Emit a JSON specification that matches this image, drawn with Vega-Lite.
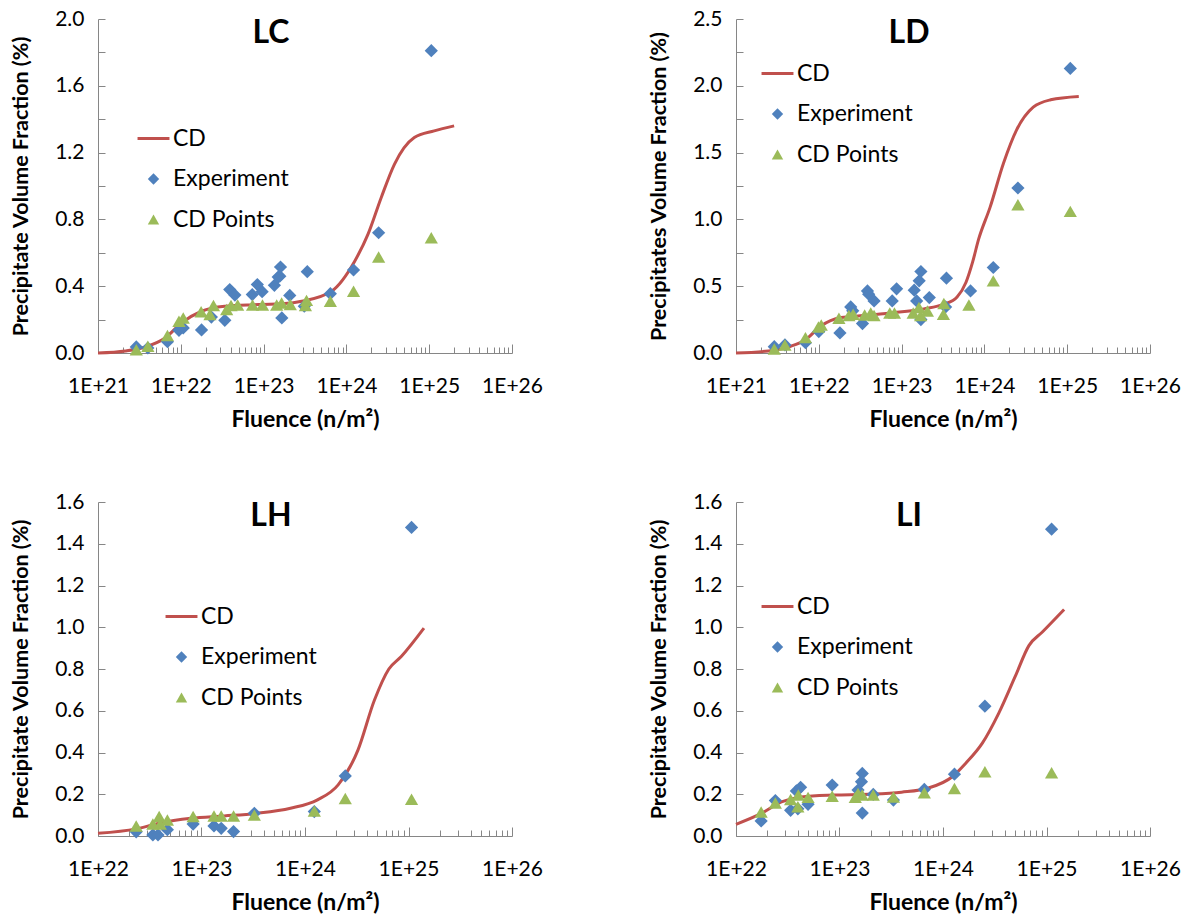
{
  "$schema": "https://vega.github.io/schema/vega-lite/v6.json",
  "padding": {"left": 10, "top": 8, "right": 5, "bottom": 5},
  "background": "white",
  "config": {
    "font": "Lato",
    "view": {"stroke": null},
    "axis": {"domainColor": "#868686", "tickColor": "#868686", "labelColor": "#000000", "titleColor": "#000000", "labelFont": "Lato", "labelFontSize": 21, "titleFont": "Lato", "titleFontSize": 21.5, "titleFontWeight": "bold", "grid": false, "labelFlush": false, "labelOverlap": false, "domainWidth": 1, "tickWidth": 1},
    "axisX": {"tickSize": -9, "labelPadding": 31, "titlePadding": 12, "titleFontSize": 23},
    "axisY": {"tickSize": -7, "labelPadding": 21, "titlePadding": 22},
    "legend": {"labelFont": "Lato", "labelFontSize": 23, "labelColor": "#000000", "symbolSize": 130, "rowPadding": 16.5, "padding": 0, "labelOffset": 8, "symbolOpacity": 1},
    "title": {"font": "Lato", "fontSize": 32, "fontWeight": "bold", "color": "#000000", "anchor": "middle", "frame": "group"}
  },
  "columns": 2,
  "spacing": {"row": 149, "column": 224},
  "bounds": "flush",
  "resolve": {"scale": {"x": "independent", "y": "independent", "color": "independent", "shape": "independent"}, "legend": {"color": "independent", "shape": "independent"}},
  "datasets": {
    "lc": [
      {"s": "CD", "x": 1e21, "y": 0}, {"s": "CD", "x": 2.14e21, "y": 0.012}, {"s": "CD", "x": 3.72e21, "y": 0.036}, {"s": "CD", "x": 6.46e21, "y": 0.09}, {"s": "CD", "x": 1.02e22, "y": 0.18}, {"s": "CD", "x": 1.78e22, "y": 0.25}, {"s": "CD", "x": 3.39e22, "y": 0.28}, {"s": "CD", "x": 8.71e22, "y": 0.29}, {"s": "CD", "x": 2.19e23, "y": 0.3}, {"s": "CD", "x": 2.88e23, "y": 0.31}, {"s": "CD", "x": 6.61e23, "y": 0.37}, {"s": "CD", "x": 1.26e24, "y": 0.55}, {"s": "CD", "x": 1.82e24, "y": 0.71}, {"s": "CD", "x": 2.63e24, "y": 0.93}, {"s": "CD", "x": 3.8e24, "y": 1.13}, {"s": "CD", "x": 6.61e24, "y": 1.29}, {"s": "CD", "x": 1.15e25, "y": 1.33}, {"s": "CD", "x": 2.0e25, "y": 1.36},
      {"s": "Experiment", "x": 2.9e21, "y": 0.036}, {"s": "Experiment", "x": 4.0e21, "y": 0.03}, {"s": "Experiment", "x": 6.9e21, "y": 0.068}, {"s": "Experiment", "x": 9.5e21, "y": 0.136}, {"s": "Experiment", "x": 1.07e22, "y": 0.15}, {"s": "Experiment", "x": 1.78e22, "y": 0.138}, {"s": "Experiment", "x": 2.34e22, "y": 0.215}, {"s": "Experiment", "x": 3.4e22, "y": 0.196}, {"s": "Experiment", "x": 3.9e22, "y": 0.38}, {"s": "Experiment", "x": 4.5e22, "y": 0.347}, {"s": "Experiment", "x": 7.3e22, "y": 0.35}, {"s": "Experiment", "x": 8.4e22, "y": 0.41}, {"s": "Experiment", "x": 9.6e22, "y": 0.367}, {"s": "Experiment", "x": 1.35e23, "y": 0.405}, {"s": "Experiment", "x": 1.5e23, "y": 0.455}, {"s": "Experiment", "x": 1.57e23, "y": 0.46}, {"s": "Experiment", "x": 1.6e23, "y": 0.515}, {"s": "Experiment", "x": 1.66e23, "y": 0.21}, {"s": "Experiment", "x": 2.07e23, "y": 0.345}, {"s": "Experiment", "x": 3.1e23, "y": 0.28}, {"s": "Experiment", "x": 3.37e23, "y": 0.487}, {"s": "Experiment", "x": 6.4e23, "y": 0.355}, {"s": "Experiment", "x": 1.22e24, "y": 0.497}, {"s": "Experiment", "x": 2.45e24, "y": 0.72}, {"s": "Experiment", "x": 1.06e25, "y": 1.81},
      {"s": "CD Points", "x": 2.9e21, "y": 0.02}, {"s": "CD Points", "x": 4.0e21, "y": 0.04}, {"s": "CD Points", "x": 6.9e21, "y": 0.105}, {"s": "CD Points", "x": 9.5e21, "y": 0.19}, {"s": "CD Points", "x": 1.07e22, "y": 0.21}, {"s": "CD Points", "x": 1.76e22, "y": 0.247}, {"s": "CD Points", "x": 2.25e22, "y": 0.23}, {"s": "CD Points", "x": 2.48e22, "y": 0.285}, {"s": "CD Points", "x": 3.58e22, "y": 0.26}, {"s": "CD Points", "x": 4.04e22, "y": 0.285}, {"s": "CD Points", "x": 4.86e22, "y": 0.287}, {"s": "CD Points", "x": 7.36e22, "y": 0.287}, {"s": "CD Points", "x": 9.7e22, "y": 0.287}, {"s": "CD Points", "x": 1.44e23, "y": 0.287}, {"s": "CD Points", "x": 1.65e23, "y": 0.3}, {"s": "CD Points", "x": 2.1e23, "y": 0.29}, {"s": "CD Points", "x": 3.2e23, "y": 0.285}, {"s": "CD Points", "x": 3.3e23, "y": 0.315}, {"s": "CD Points", "x": 6.4e23, "y": 0.31}, {"s": "CD Points", "x": 1.22e24, "y": 0.37}, {"s": "CD Points", "x": 2.45e24, "y": 0.575}, {"s": "CD Points", "x": 1.06e25, "y": 0.69}
    ],
    "ld": [
      {"s": "CD", "x": 1e21, "y": 0}, {"s": "CD", "x": 2.88e21, "y": 0.02}, {"s": "CD", "x": 4.57e21, "y": 0.05}, {"s": "CD", "x": 6.92e21, "y": 0.1}, {"s": "CD", "x": 1.05e22, "y": 0.2}, {"s": "CD", "x": 1.86e22, "y": 0.265}, {"s": "CD", "x": 3.47e22, "y": 0.28}, {"s": "CD", "x": 7.41e22, "y": 0.3}, {"s": "CD", "x": 1.86e23, "y": 0.33}, {"s": "CD", "x": 3.24e23, "y": 0.365}, {"s": "CD", "x": 4.68e23, "y": 0.42}, {"s": "CD", "x": 6.0e23, "y": 0.53}, {"s": "CD", "x": 7.2e23, "y": 0.68}, {"s": "CD", "x": 8.5e23, "y": 0.85}, {"s": "CD", "x": 1.17e24, "y": 1.09}, {"s": "CD", "x": 1.7e24, "y": 1.42}, {"s": "CD", "x": 2.45e24, "y": 1.67}, {"s": "CD", "x": 3.89e24, "y": 1.84}, {"s": "CD", "x": 6.31e24, "y": 1.895}, {"s": "CD", "x": 1.38e25, "y": 1.92},
      {"s": "Experiment", "x": 2.9e21, "y": 0.047}, {"s": "Experiment", "x": 3.9e21, "y": 0.06}, {"s": "Experiment", "x": 6.9e21, "y": 0.077}, {"s": "Experiment", "x": 1.0e22, "y": 0.16}, {"s": "Experiment", "x": 1.8e22, "y": 0.15}, {"s": "Experiment", "x": 2.43e22, "y": 0.345}, {"s": "Experiment", "x": 2.57e22, "y": 0.316}, {"s": "Experiment", "x": 3.37e22, "y": 0.22}, {"s": "Experiment", "x": 3.87e22, "y": 0.465}, {"s": "Experiment", "x": 4.0e22, "y": 0.44}, {"s": "Experiment", "x": 4.65e22, "y": 0.39}, {"s": "Experiment", "x": 7.7e22, "y": 0.39}, {"s": "Experiment", "x": 8.7e22, "y": 0.48}, {"s": "Experiment", "x": 1.42e23, "y": 0.47}, {"s": "Experiment", "x": 1.52e23, "y": 0.39}, {"s": "Experiment", "x": 1.63e23, "y": 0.54}, {"s": "Experiment", "x": 1.71e23, "y": 0.61}, {"s": "Experiment", "x": 1.71e23, "y": 0.25}, {"s": "Experiment", "x": 2.16e23, "y": 0.415}, {"s": "Experiment", "x": 3.4e23, "y": 0.345}, {"s": "Experiment", "x": 3.48e23, "y": 0.56}, {"s": "Experiment", "x": 6.8e23, "y": 0.465}, {"s": "Experiment", "x": 1.28e24, "y": 0.64}, {"s": "Experiment", "x": 2.54e24, "y": 1.235}, {"s": "Experiment", "x": 1.09e25, "y": 2.13},
      {"s": "CD Points", "x": 2.9e21, "y": 0.03}, {"s": "CD Points", "x": 3.9e21, "y": 0.06}, {"s": "CD Points", "x": 6.9e21, "y": 0.115}, {"s": "CD Points", "x": 9.9e21, "y": 0.195}, {"s": "CD Points", "x": 1.07e22, "y": 0.21}, {"s": "CD Points", "x": 1.75e22, "y": 0.26}, {"s": "CD Points", "x": 2.31e22, "y": 0.28}, {"s": "CD Points", "x": 2.6e22, "y": 0.29}, {"s": "CD Points", "x": 3.58e22, "y": 0.285}, {"s": "CD Points", "x": 4.24e22, "y": 0.3}, {"s": "CD Points", "x": 4.65e22, "y": 0.28}, {"s": "CD Points", "x": 7.2e22, "y": 0.3}, {"s": "CD Points", "x": 8.2e22, "y": 0.3}, {"s": "CD Points", "x": 1.38e23, "y": 0.3}, {"s": "CD Points", "x": 1.62e23, "y": 0.34}, {"s": "CD Points", "x": 1.7e23, "y": 0.28}, {"s": "CD Points", "x": 2.05e23, "y": 0.315}, {"s": "CD Points", "x": 3.2e23, "y": 0.29}, {"s": "CD Points", "x": 3.24e23, "y": 0.37}, {"s": "CD Points", "x": 6.5e23, "y": 0.36}, {"s": "CD Points", "x": 1.28e24, "y": 0.54}, {"s": "CD Points", "x": 2.54e24, "y": 1.11}, {"s": "CD Points", "x": 1.09e25, "y": 1.06}
    ],
    "lh": [
      {"s": "CD", "x": 1e22, "y": 0.013}, {"s": "CD", "x": 2.34e22, "y": 0.034}, {"s": "CD", "x": 3.8e22, "y": 0.06}, {"s": "CD", "x": 7.94e22, "y": 0.085}, {"s": "CD", "x": 1.66e23, "y": 0.096}, {"s": "CD", "x": 3.47e23, "y": 0.109}, {"s": "CD", "x": 7.24e23, "y": 0.133}, {"s": "CD", "x": 1.32e24, "y": 0.173}, {"s": "CD", "x": 2.09e24, "y": 0.245}, {"s": "CD", "x": 3.24e24, "y": 0.41}, {"s": "CD", "x": 4.68e24, "y": 0.65}, {"s": "CD", "x": 6.46e24, "y": 0.8}, {"s": "CD", "x": 8.51e24, "y": 0.86}, {"s": "CD", "x": 1.41e25, "y": 0.996},
      {"s": "Experiment", "x": 2.34e22, "y": 0.02}, {"s": "Experiment", "x": 3.39e22, "y": 0.005}, {"s": "Experiment", "x": 3.8e22, "y": 0.005}, {"s": "Experiment", "x": 4.68e22, "y": 0.03}, {"s": "Experiment", "x": 8.3e22, "y": 0.057}, {"s": "Experiment", "x": 1.32e23, "y": 0.048}, {"s": "Experiment", "x": 1.55e23, "y": 0.037}, {"s": "Experiment", "x": 2.04e23, "y": 0.021}, {"s": "Experiment", "x": 3.24e23, "y": 0.109}, {"s": "Experiment", "x": 1.23e24, "y": 0.117}, {"s": "Experiment", "x": 2.45e24, "y": 0.288}, {"s": "Experiment", "x": 1.07e25, "y": 1.478},
      {"s": "CD Points", "x": 2.34e22, "y": 0.048}, {"s": "CD Points", "x": 3.39e22, "y": 0.057}, {"s": "CD Points", "x": 3.9e22, "y": 0.093}, {"s": "CD Points", "x": 4.0e22, "y": 0.057}, {"s": "CD Points", "x": 4.68e22, "y": 0.077}, {"s": "CD Points", "x": 8.3e22, "y": 0.093}, {"s": "CD Points", "x": 1.32e23, "y": 0.096}, {"s": "CD Points", "x": 1.55e23, "y": 0.096}, {"s": "CD Points", "x": 2.04e23, "y": 0.096}, {"s": "CD Points", "x": 3.24e23, "y": 0.1}, {"s": "CD Points", "x": 1.23e24, "y": 0.12}, {"s": "CD Points", "x": 2.45e24, "y": 0.18}, {"s": "CD Points", "x": 1.07e25, "y": 0.176}
    ],
    "li": [
      {"s": "CD", "x": 1e22, "y": 0.056}, {"s": "CD", "x": 1.74e22, "y": 0.107}, {"s": "CD", "x": 2.75e22, "y": 0.163}, {"s": "CD", "x": 4.27e22, "y": 0.187}, {"s": "CD", "x": 8.91e22, "y": 0.196}, {"s": "CD", "x": 1.91e23, "y": 0.2}, {"s": "CD", "x": 3.98e23, "y": 0.21}, {"s": "CD", "x": 7.24e23, "y": 0.23}, {"s": "CD", "x": 1.23e24, "y": 0.284}, {"s": "CD", "x": 1.66e24, "y": 0.349}, {"s": "CD", "x": 2.4e24, "y": 0.445}, {"s": "CD", "x": 3.47e24, "y": 0.59}, {"s": "CD", "x": 5.01e24, "y": 0.767}, {"s": "CD", "x": 6.76e24, "y": 0.912}, {"s": "CD", "x": 9.12e24, "y": 0.977}, {"s": "CD", "x": 1.48e25, "y": 1.085},
      {"s": "Experiment", "x": 1.75e22, "y": 0.072}, {"s": "Experiment", "x": 2.4e22, "y": 0.17}, {"s": "Experiment", "x": 3.37e22, "y": 0.123}, {"s": "Experiment", "x": 3.83e22, "y": 0.216}, {"s": "Experiment", "x": 3.96e22, "y": 0.13}, {"s": "Experiment", "x": 4.21e22, "y": 0.233}, {"s": "Experiment", "x": 4.97e22, "y": 0.152}, {"s": "Experiment", "x": 8.5e22, "y": 0.244}, {"s": "Experiment", "x": 1.51e23, "y": 0.22}, {"s": "Experiment", "x": 1.63e23, "y": 0.26}, {"s": "Experiment", "x": 1.66e23, "y": 0.3}, {"s": "Experiment", "x": 1.66e23, "y": 0.11}, {"s": "Experiment", "x": 2.12e23, "y": 0.199}, {"s": "Experiment", "x": 3.32e23, "y": 0.172}, {"s": "Experiment", "x": 6.6e23, "y": 0.223}, {"s": "Experiment", "x": 1.29e24, "y": 0.296}, {"s": "Experiment", "x": 2.54e24, "y": 0.622}, {"s": "Experiment", "x": 1.12e25, "y": 1.47},
      {"s": "CD Points", "x": 1.75e22, "y": 0.115}, {"s": "CD Points", "x": 2.4e22, "y": 0.158}, {"s": "CD Points", "x": 3.37e22, "y": 0.175}, {"s": "CD Points", "x": 3.96e22, "y": 0.14}, {"s": "CD Points", "x": 4.0e22, "y": 0.196}, {"s": "CD Points", "x": 4.97e22, "y": 0.185}, {"s": "CD Points", "x": 8.5e22, "y": 0.19}, {"s": "CD Points", "x": 1.42e23, "y": 0.185}, {"s": "CD Points", "x": 1.51e23, "y": 0.204}, {"s": "CD Points", "x": 1.66e23, "y": 0.196}, {"s": "CD Points", "x": 2.12e23, "y": 0.196}, {"s": "CD Points", "x": 3.32e23, "y": 0.187}, {"s": "CD Points", "x": 6.6e23, "y": 0.207}, {"s": "CD Points", "x": 1.29e24, "y": 0.228}, {"s": "CD Points", "x": 2.54e24, "y": 0.308}, {"s": "CD Points", "x": 1.12e25, "y": 0.303}
    ]
  },
  "concat": [
    {
      "width": 414, "height": 334,
      "title": {"text": "LC", "dx": -34, "offset": -42},
      "data": {"name": "lc"},
      "resolve": {"axis": {"x": "independent"}},
      "encoding": {
        "y": {"field": "y", "type": "quantitative", "scale": {"domain": [0, 2], "nice": false, "zero": true}, "axis": {"title": "Precipitate Volume Fraction (%)", "values": [0, 0.2, 0.4, 0.6, 0.8, 1.0, 1.2, 1.4, 1.6, 1.8, 2.0], "labelExpr": "round(datum.value*10) % 4 == 0 ? format(datum.value, '.1f') : ''"}},
        "color": {"field": "s", "type": "nominal", "scale": {"domain": ["CD", "Experiment", "CD Points"], "range": ["#C0504D", "#4F81BD", "#9BBB59"]}, "legend": {"title": null, "orient": "none", "legendX": 44, "legendY": 108, "encode": {"symbols": {"update": {"fill": {"signal": "datum.value === 'Experiment' ? '#4F81BD' : datum.value === 'CD Points' ? '#9BBB59' : 'transparent'"}, "stroke": {"signal": "datum.value === 'CD' ? '#C0504D' : 'transparent'"}, "strokeWidth": {"signal": "datum.value === 'CD' ? 3 : 0"}}}}}}
      },
      "layer": [
        {"transform": [{"filter": "datum.s === 'CD'"}], "mark": {"type": "line", "strokeWidth": 3, "interpolate": "monotone"},
         "encoding": {"x": {"field": "x", "type": "quantitative", "scale": {"type": "log", "domain": [1e21, 1e26], "nice": false}, "axis": {"orient": "bottom", "title": null, "labels": false, "domain": false, "tickSize": -6, "values": [2e21,3e21,4e21,5e21,6e21,7e21,8e21,9e21,2e22,3e22,4e22,5e22,6e22,7e22,8e22,9e22,2e23,3e23,4e23,5e23,6e23,7e23,8e23,9e23,2e24,3e24,4e24,5e24,6e24,7e24,8e24,9e24,2e25,3e25,4e25,5e25,6e25,7e25,8e25,9e25]}}}},
        {"transform": [{"filter": "datum.s !== 'CD'"}], "mark": {"type": "point", "filled": true, "size": 175, "opacity": 1},
         "encoding": {"x": {"field": "x", "type": "quantitative", "scale": {"type": "log", "domain": [1e21, 1e26], "nice": false}, "axis": {"orient": "bottom", "title": "Fluence (n/m²)", "values": [1e21, 1e22, 1e23, 1e24, 1e25, 1e26], "labelExpr": "'1E+' + round(log(datum.value)/LN10)"}},
           "shape": {"field": "s", "type": "nominal", "scale": {"domain": ["CD", "Experiment", "CD Points"], "range": ["M-2.8,0L2.8,0", "diamond", "triangle-up"]}, "legend": {"title": null, "orient": "none", "legendX": 44, "legendY": 108, "encode": {"symbols": {"update": {"fill": {"signal": "datum.value === 'Experiment' ? '#4F81BD' : datum.value === 'CD Points' ? '#9BBB59' : 'transparent'"}, "stroke": {"signal": "datum.value === 'CD' ? '#C0504D' : 'transparent'"}, "strokeWidth": {"signal": "datum.value === 'CD' ? 3 : 0"}}}}}}}}
      ]
    },
    {
      "width": 414, "height": 334,
      "title": {"text": "LD", "dx": -34, "offset": -42},
      "data": {"name": "ld"},
      "resolve": {"axis": {"x": "independent"}},
      "encoding": {
        "y": {"field": "y", "type": "quantitative", "scale": {"domain": [0, 2.5], "nice": false, "zero": true}, "axis": {"title": "Precipitates Volume Fraction (%)", "values": [0, 0.25, 0.5, 0.75, 1.0, 1.25, 1.5, 1.75, 2.0, 2.25, 2.5], "labelExpr": "round(datum.value*100) % 50 == 0 ? format(datum.value, '.1f') : ''"}},
        "color": {"field": "s", "type": "nominal", "scale": {"domain": ["CD", "Experiment", "CD Points"], "range": ["#C0504D", "#4F81BD", "#9BBB59"]}, "legend": {"title": null, "orient": "none", "legendX": 30, "legendY": 43, "encode": {"symbols": {"update": {"fill": {"signal": "datum.value === 'Experiment' ? '#4F81BD' : datum.value === 'CD Points' ? '#9BBB59' : 'transparent'"}, "stroke": {"signal": "datum.value === 'CD' ? '#C0504D' : 'transparent'"}, "strokeWidth": {"signal": "datum.value === 'CD' ? 3 : 0"}}}}}}
      },
      "layer": [
        {"transform": [{"filter": "datum.s === 'CD'"}], "mark": {"type": "line", "strokeWidth": 3, "interpolate": "monotone"},
         "encoding": {"x": {"field": "x", "type": "quantitative", "scale": {"type": "log", "domain": [1e21, 1e26], "nice": false}, "axis": {"orient": "bottom", "title": null, "labels": false, "domain": false, "tickSize": -6, "values": [2e21,3e21,4e21,5e21,6e21,7e21,8e21,9e21,2e22,3e22,4e22,5e22,6e22,7e22,8e22,9e22,2e23,3e23,4e23,5e23,6e23,7e23,8e23,9e23,2e24,3e24,4e24,5e24,6e24,7e24,8e24,9e24,2e25,3e25,4e25,5e25,6e25,7e25,8e25,9e25]}}}},
        {"transform": [{"filter": "datum.s !== 'CD'"}], "mark": {"type": "point", "filled": true, "size": 175, "opacity": 1},
         "encoding": {"x": {"field": "x", "type": "quantitative", "scale": {"type": "log", "domain": [1e21, 1e26], "nice": false}, "axis": {"orient": "bottom", "title": "Fluence (n/m²)", "values": [1e21, 1e22, 1e23, 1e24, 1e25, 1e26], "labelExpr": "'1E+' + round(log(datum.value)/LN10)"}},
           "shape": {"field": "s", "type": "nominal", "scale": {"domain": ["CD", "Experiment", "CD Points"], "range": ["M-2.8,0L2.8,0", "diamond", "triangle-up"]}, "legend": {"title": null, "orient": "none", "legendX": 30, "legendY": 43, "encode": {"symbols": {"update": {"fill": {"signal": "datum.value === 'Experiment' ? '#4F81BD' : datum.value === 'CD Points' ? '#9BBB59' : 'transparent'"}, "stroke": {"signal": "datum.value === 'CD' ? '#C0504D' : 'transparent'"}, "strokeWidth": {"signal": "datum.value === 'CD' ? 3 : 0"}}}}}}}}
      ]
    },
    {
      "width": 414, "height": 334,
      "title": {"text": "LH", "dx": -34, "offset": -42},
      "data": {"name": "lh"},
      "resolve": {"axis": {"x": "independent"}},
      "encoding": {
        "y": {"field": "y", "type": "quantitative", "scale": {"domain": [0, 1.6], "nice": false, "zero": true}, "axis": {"title": "Precipitate Volume Fraction (%)", "values": [0, 0.2, 0.4, 0.6, 0.8, 1.0, 1.2, 1.4, 1.6], "format": ".1f"}},
        "color": {"field": "s", "type": "nominal", "scale": {"domain": ["CD", "Experiment", "CD Points"], "range": ["#C0504D", "#4F81BD", "#9BBB59"]}, "legend": {"title": null, "orient": "none", "legendX": 72, "legendY": 103, "encode": {"symbols": {"update": {"fill": {"signal": "datum.value === 'Experiment' ? '#4F81BD' : datum.value === 'CD Points' ? '#9BBB59' : 'transparent'"}, "stroke": {"signal": "datum.value === 'CD' ? '#C0504D' : 'transparent'"}, "strokeWidth": {"signal": "datum.value === 'CD' ? 3 : 0"}}}}}}
      },
      "layer": [
        {"transform": [{"filter": "datum.s === 'CD'"}], "mark": {"type": "line", "strokeWidth": 3, "interpolate": "monotone"},
         "encoding": {"x": {"field": "x", "type": "quantitative", "scale": {"type": "log", "domain": [1e22, 1e26], "nice": false}, "axis": {"orient": "bottom", "title": null, "labels": false, "domain": false, "tickSize": -6, "values": [2e22,3e22,4e22,5e22,6e22,7e22,8e22,9e22,2e23,3e23,4e23,5e23,6e23,7e23,8e23,9e23,2e24,3e24,4e24,5e24,6e24,7e24,8e24,9e24,2e25,3e25,4e25,5e25,6e25,7e25,8e25,9e25]}}}},
        {"transform": [{"filter": "datum.s !== 'CD'"}], "mark": {"type": "point", "filled": true, "size": 175, "opacity": 1},
         "encoding": {"x": {"field": "x", "type": "quantitative", "scale": {"type": "log", "domain": [1e22, 1e26], "nice": false}, "axis": {"orient": "bottom", "title": "Fluence (n/m²)", "values": [1e22, 1e23, 1e24, 1e25, 1e26], "labelExpr": "'1E+' + round(log(datum.value)/LN10)"}},
           "shape": {"field": "s", "type": "nominal", "scale": {"domain": ["CD", "Experiment", "CD Points"], "range": ["M-2.8,0L2.8,0", "diamond", "triangle-up"]}, "legend": {"title": null, "orient": "none", "legendX": 72, "legendY": 103, "encode": {"symbols": {"update": {"fill": {"signal": "datum.value === 'Experiment' ? '#4F81BD' : datum.value === 'CD Points' ? '#9BBB59' : 'transparent'"}, "stroke": {"signal": "datum.value === 'CD' ? '#C0504D' : 'transparent'"}, "strokeWidth": {"signal": "datum.value === 'CD' ? 3 : 0"}}}}}}}}
      ]
    },
    {
      "width": 414, "height": 334,
      "title": {"text": "LI", "dx": -34, "offset": -42},
      "data": {"name": "li"},
      "resolve": {"axis": {"x": "independent"}},
      "encoding": {
        "y": {"field": "y", "type": "quantitative", "scale": {"domain": [0, 1.6], "nice": false, "zero": true}, "axis": {"title": "Precipitate Volume Fraction (%)", "values": [0, 0.2, 0.4, 0.6, 0.8, 1.0, 1.2, 1.4, 1.6], "format": ".1f"}},
        "color": {"field": "s", "type": "nominal", "scale": {"domain": ["CD", "Experiment", "CD Points"], "range": ["#C0504D", "#4F81BD", "#9BBB59"]}, "legend": {"title": null, "orient": "none", "legendX": 30, "legendY": 93, "encode": {"symbols": {"update": {"fill": {"signal": "datum.value === 'Experiment' ? '#4F81BD' : datum.value === 'CD Points' ? '#9BBB59' : 'transparent'"}, "stroke": {"signal": "datum.value === 'CD' ? '#C0504D' : 'transparent'"}, "strokeWidth": {"signal": "datum.value === 'CD' ? 3 : 0"}}}}}}
      },
      "layer": [
        {"transform": [{"filter": "datum.s === 'CD'"}], "mark": {"type": "line", "strokeWidth": 3, "interpolate": "monotone"},
         "encoding": {"x": {"field": "x", "type": "quantitative", "scale": {"type": "log", "domain": [1e22, 1e26], "nice": false}, "axis": {"orient": "bottom", "title": null, "labels": false, "domain": false, "tickSize": -6, "values": [2e22,3e22,4e22,5e22,6e22,7e22,8e22,9e22,2e23,3e23,4e23,5e23,6e23,7e23,8e23,9e23,2e24,3e24,4e24,5e24,6e24,7e24,8e24,9e24,2e25,3e25,4e25,5e25,6e25,7e25,8e25,9e25]}}}},
        {"transform": [{"filter": "datum.s !== 'CD'"}], "mark": {"type": "point", "filled": true, "size": 175, "opacity": 1},
         "encoding": {"x": {"field": "x", "type": "quantitative", "scale": {"type": "log", "domain": [1e22, 1e26], "nice": false}, "axis": {"orient": "bottom", "title": "Fluence (n/m²)", "values": [1e22, 1e23, 1e24, 1e25, 1e26], "labelExpr": "'1E+' + round(log(datum.value)/LN10)"}},
           "shape": {"field": "s", "type": "nominal", "scale": {"domain": ["CD", "Experiment", "CD Points"], "range": ["M-2.8,0L2.8,0", "diamond", "triangle-up"]}, "legend": {"title": null, "orient": "none", "legendX": 30, "legendY": 93, "encode": {"symbols": {"update": {"fill": {"signal": "datum.value === 'Experiment' ? '#4F81BD' : datum.value === 'CD Points' ? '#9BBB59' : 'transparent'"}, "stroke": {"signal": "datum.value === 'CD' ? '#C0504D' : 'transparent'"}, "strokeWidth": {"signal": "datum.value === 'CD' ? 3 : 0"}}}}}}}}
      ]
    }
  ]
}
